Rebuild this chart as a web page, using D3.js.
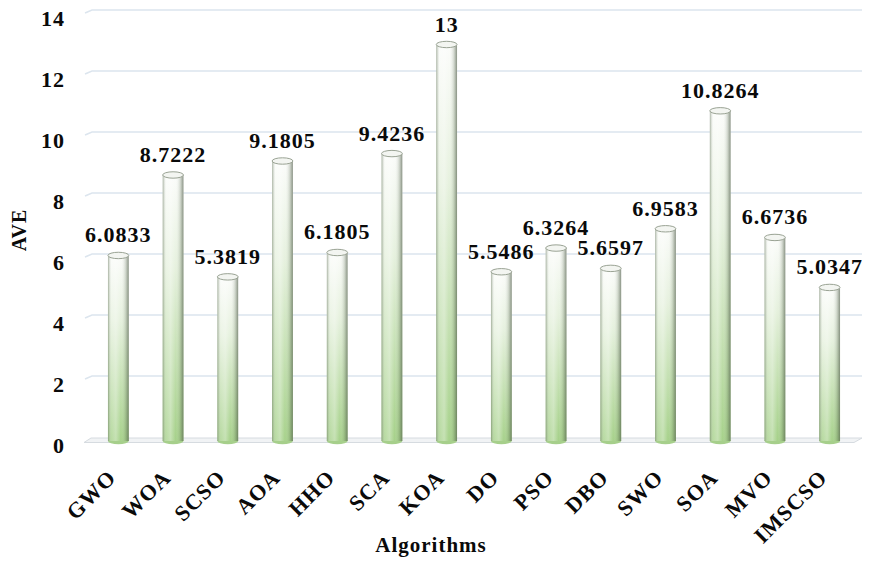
<!DOCTYPE html>
<html>
<head>
<meta charset="utf-8">
<script src="https://cdn.jsdelivr.net/npm/d3@7"></script>
<style>
  html, body { margin: 0; padding: 0; background: #fff; }
  svg { display: block; }
</style>
</head>
<body>
<svg id="chart" width="871" height="562"></svg>
<script>
// Average rank (AVE) per algorithm
const algorithms = ["GWO", "WOA", "SCSO", "AOA", "HHO", "SCA", "KOA", "DO", "PSO", "DBO", "SWO", "SOA", "MVO", "IMSCSO"];
const aveValues = [6.0833, 8.7222, 5.3819, 9.1805, 6.1805, 9.4236, 13, 5.5486, 6.3264, 5.6597, 6.9583, 10.8264, 6.6736, 5.0347];
const valueLabels = ["6.0833", "8.7222", "5.3819", "9.1805", "6.1805", "9.4236", "13", "5.5486", "6.3264", "5.6597", "6.9583", "10.8264", "6.6736", "5.0347"];
const yTicks = [0, 2, 4, 6, 8, 10, 12, 14];

const FONT = '"Liberation Serif", "Times New Roman", serif';
const svg = d3.select("#chart");
const defs = svg.append("defs");

function label(sel, size) {
  return sel.style("font-family", FONT).style("font-weight", "bold")
    .style("font-size", size + "px").style("letter-spacing", "1px").attr("fill", "#0a0a0a");
}

const x = d3.scaleBand().domain(algorithms).range([91, 857]).paddingInner(0.62).paddingOuter(0.31);
const y = d3.scaleLinear().domain([0, 14]).range([441, 14]);

// back-wall offset for the pseudo-3D grid
const depthY = -4;
const gridRight = 862;

// vertical colour ramp of the cylinders
const vGrad = defs.append("linearGradient").attr("id", "vgrad")
  .attr("x1", 0).attr("y1", 0).attr("x2", 0).attr("y2", 1);
vGrad.append("stop").attr("offset", "0%").attr("stop-color", "#fbfcfa");
vGrad.append("stop").attr("offset", "35%").attr("stop-color", "#e6f1de");
vGrad.append("stop").attr("offset", "100%").attr("stop-color", "#a6d18a");

// horizontal shading that makes the bars look round
const hGrad = defs.append("linearGradient").attr("id", "hgrad")
  .attr("x1", 0).attr("y1", 0).attr("x2", 1).attr("y2", 0);
[[0, "#6f7f66", 0.6], [0.16, "#ffffff", 0.2], [0.38, "#ffffff", 0.35], [0.62, "#ffffff", 0.0], [0.85, "#5e6e56", 0.25], [1, "#4e5a48", 0.65]]
  .forEach(([o, c, a]) => hGrad.append("stop").attr("offset", o).attr("stop-color", c).attr("stop-opacity", a));

// gridlines on the back wall
const grid = svg.append("g");
yTicks.slice(1).forEach(t => {
  const gy = y(t) + depthY;
  grid.append("path")
    .attr("d", `M${x.range()[0] - 6},${gy + 3} L${x.range()[0] + 1},${gy} L${gridRight},${gy}`)
    .attr("fill", "none").attr("stroke", "#dce5ee").attr("stroke-width", 1.6);
});

// floor
const fy = y(0);
svg.append("path")
  .attr("d", `M${x.range()[0] - 7},${fy + 1.5} L${x.range()[0]},${fy + depthY + 1} L${gridRight},${fy + depthY + 1} L${gridRight - 8},${fy + 1.5} Z`)
  .attr("fill", "#f1f3f5").attr("stroke", "#d6dbe0").attr("stroke-width", 1);

// y tick labels
svg.append("g").selectAll("text").data(yTicks).join("text")
  .attr("x", 65).attr("y", d => y(d) + 4)
  .attr("dy", "0.35em").attr("text-anchor", "end")
  .call(label, 22).text(d => d);

// cylinders
const bw = x.bandwidth();
const ry = 3.2;
const bars = svg.append("g").selectAll("g").data(algorithms).join("g");
bars.append("ellipse")
  .attr("cx", d => x(d) + bw / 2).attr("cy", y(0)).attr("rx", bw / 2).attr("ry", ry)
  .attr("fill", "#a6cf8b");
bars.append("rect")
  .attr("x", d => x(d)).attr("width", bw)
  .attr("y", (d, i) => y(aveValues[i])).attr("height", (d, i) => y(0) - y(aveValues[i]))
  .attr("fill", "url(#vgrad)");
bars.append("rect")
  .attr("x", d => x(d)).attr("width", bw)
  .attr("y", (d, i) => y(aveValues[i])).attr("height", (d, i) => y(0) - y(aveValues[i]))
  .attr("fill", "url(#hgrad)");
bars.append("ellipse")
  .attr("cx", d => x(d) + bw / 2).attr("cy", (d, i) => y(aveValues[i])).attr("rx", bw / 2).attr("ry", ry)
  .attr("fill", "#f3f5f1").attr("stroke", "#9aa394").attr("stroke-width", 1);

// value labels
svg.append("g").selectAll("text").data(algorithms).join("text")
  .attr("x", d => x(d) + bw / 2).attr("y", (d, i) => y(aveValues[i]) - 13)
  .attr("text-anchor", "middle").call(label, 22)
  .text((d, i) => valueLabels[i]);

// category labels
svg.append("g").selectAll("text").data(algorithms).join("text")
  .attr("transform", d => `translate(${x(d) + bw / 2 - 1},${479}) rotate(-45)`)
  .attr("text-anchor", "end").call(label, 22)
  .text(d => d);

// axis titles
svg.append("text").attr("transform", "translate(26,230) rotate(-90)")
  .attr("text-anchor", "middle").call(label, 20).text("AVE");
svg.append("text").attr("x", 431).attr("y", 552)
  .attr("text-anchor", "middle").call(label, 21).text("Algorithms");
</script>
</body>
</html>
